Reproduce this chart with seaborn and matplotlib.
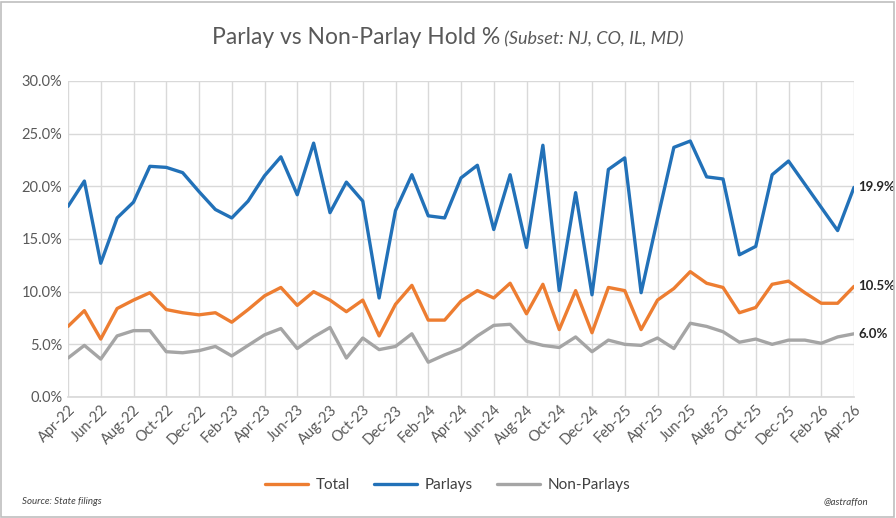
import numpy as np
import pandas as pd
import matplotlib
matplotlib.use("Agg")
import matplotlib.pyplot as plt
import seaborn as sns
from matplotlib.patches import Rectangle
from matplotlib.lines import Line2D

months = ["Apr-22","May-22","Jun-22","Jul-22","Aug-22","Sep-22","Oct-22","Nov-22","Dec-22",
          "Jan-23","Feb-23","Mar-23","Apr-23","May-23","Jun-23","Jul-23","Aug-23","Sep-23","Oct-23","Nov-23","Dec-23",
          "Jan-24","Feb-24","Mar-24","Apr-24","May-24","Jun-24","Jul-24","Aug-24","Sep-24","Oct-24","Nov-24","Dec-24",
          "Jan-25","Feb-25","Mar-25","Apr-25","May-25","Jun-25","Jul-25","Aug-25","Sep-25","Oct-25","Nov-25","Dec-25",
          "Jan-26","Feb-26","Mar-26","Apr-26"]

parlays = [18.1, 20.5, 12.7, 17.0, 18.5, 21.9, 21.8, 21.3, 19.5,
           17.8, 17.0, 18.6, 21.0, 22.8, 19.2, 24.1, 17.5, 20.4, 18.6, 9.4, 17.7,
           21.1, 17.2, 17.0, 20.8, 22.0, 15.9, 21.1, 14.2, 23.9, 10.1, 19.4, 9.7,
           21.6, 22.7, 9.9, 16.9, 23.7, 24.3, 20.9, 20.7, 13.5, 14.3, 21.1, 22.4,
           20.2, 18.0, 15.8, 19.9]

total = [6.7, 8.2, 5.5, 8.4, 9.2, 9.9, 8.3, 8.0, 7.8,
         8.0, 7.1, 8.3, 9.6, 10.4, 8.7, 10.0, 9.2, 8.1, 9.2, 5.8, 8.8,
         10.6, 7.3, 7.3, 9.1, 10.1, 9.4, 10.8, 7.9, 10.7, 6.4, 10.1, 6.1,
         10.4, 10.1, 6.4, 9.2, 10.3, 11.9, 10.8, 10.4, 8.0, 8.5, 10.7, 11.0,
         9.9, 8.9, 8.9, 10.5]

non_parlays = [3.7, 4.9, 3.6, 5.8, 6.3, 6.3, 4.3, 4.2, 4.4,
               4.8, 3.9, 4.9, 5.9, 6.5, 4.6, 5.7, 6.6, 3.7, 5.6, 4.5, 4.8,
               6.0, 3.3, 4.0, 4.6, 5.8, 6.8, 6.9, 5.3, 4.9, 4.7, 5.7, 4.3,
               5.4, 5.0, 4.9, 5.6, 4.6, 7.0, 6.7, 6.2, 5.2, 5.5, 5.0, 5.4,
               5.4, 5.1, 5.7, 6.0]

series_names = ["Total", "Parlays", "Non-Parlays"]
colors = ["#ED7D31", "#2271B8", "#A5A5A5"]
yticks = [0, 5, 10, 15, 20, 25, 30]

sns.set_theme(style="white")
plt.rcParams['font.family'] = ['Lato', 'DejaVu Sans']

n = len(months)
df = pd.DataFrame({
    "idx": list(range(n)) * 3,
    "value": total + parlays + non_parlays,
    "series": ["Total"] * n + ["Parlays"] * n + ["Non-Parlays"] * n,
})

fig = plt.figure(figsize=(8.96, 5.18), dpi=100)
ax = fig.add_axes([68/896, 1 - 397/518, (854 - 68)/896, (397 - 81)/518])

sns.lineplot(data=df, x="idx", y="value", hue="series", hue_order=series_names,
             palette=colors, linewidth=2.4, ax=ax, legend=False, zorder=3)

ax.set_xlim(0, n - 1)
ax.set_ylim(0, 30)
ax.set_yticks(yticks)
ax.set_yticklabels([f"{v:.1f}%" for v in yticks], color="#595959", fontsize=10.5)
ax.set_xticks(range(0, n, 2))
ax.set_xticklabels(months[::2], rotation=45, ha="right", rotation_mode="anchor",
                   color="#595959", fontsize=10.5)
ax.tick_params(axis="both", length=0, pad=4)
ax.set_xlabel("")
ax.set_ylabel("")
ax.grid(True, color="#D9D9D9", linewidth=1.0, zorder=0)
for s in ["top", "right", "left"]:
    ax.spines[s].set_visible(False)
ax.spines["bottom"].set_color("#D9D9D9")

# end labels
for vals in [parlays, total, non_parlays]:
    ax.annotate(f"{vals[-1]:.1f}%", xy=(n - 1, vals[-1]), xytext=(3, 0),
                textcoords="offset points", va="center", ha="left",
                fontsize=9.5, fontweight="bold", color="#262626", annotation_clip=False)

# title
fig.canvas.draw()
r = fig.canvas.get_renderer()
t1 = fig.text(0, 1 - 38/518, "Parlay vs Non-Parlay Hold %", fontsize=16.5, color="#595959",
              va="center", ha="left")
t2 = fig.text(0, 1 - 39/518, " (Subset: NJ, CO, IL, MD)", fontsize=13, color="#595959",
              style="italic", va="center", ha="left")
w1 = t1.get_window_extent(r).width / 896
w2 = t2.get_window_extent(r).width / 896
start = 0.5 - (w1 + w2) / 2
t1.set_x(start)
t2.set_x(start + w1)

# legend
handles = [Line2D([0], [0], color=c, linewidth=2.4) for c in colors]
fig.legend(handles, series_names, loc="center", bbox_to_anchor=(0.5, 1 - 485/518),
           ncol=3, frameon=False, fontsize=11, handlelength=2.8, columnspacing=1.6,
           handletextpad=0.5, labelcolor="#404040")

fig.text(22/896, 1 - 502/518, "Source: State filings", fontsize=7, style="italic",
         color="#404040", va="center", ha="left")
fig.text(868/896, 1 - 502/518, "@astraffon", fontsize=7, style="italic",
         color="#404040", va="center", ha="right")

fig.patches.append(Rectangle((0.001, 0.002), 0.997, 0.995, transform=fig.transFigure,
                             fill=False, edgecolor="#BFBFBF", linewidth=1.2))

fig.savefig("out.png", dpi=100)
